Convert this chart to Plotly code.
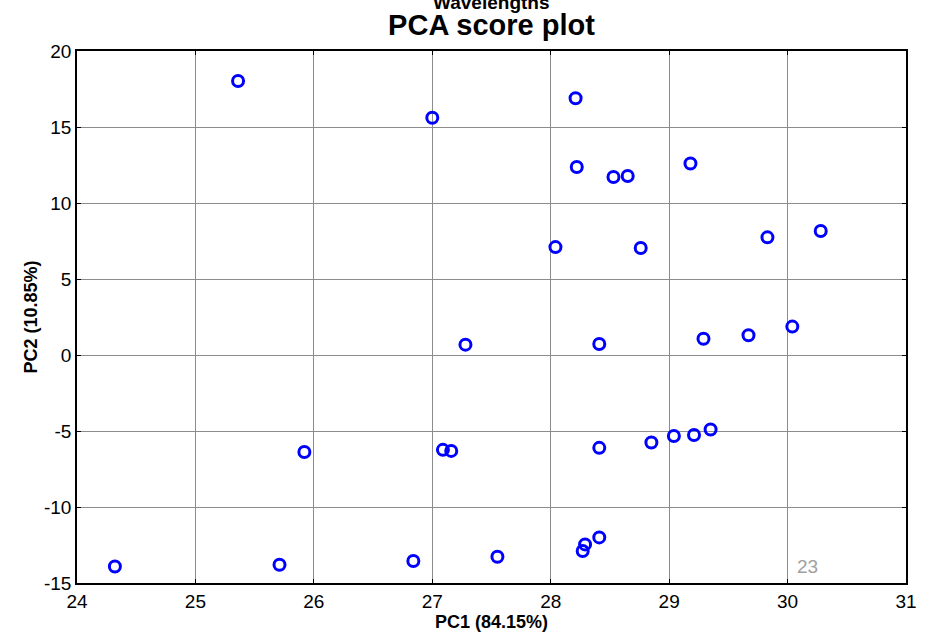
import plotly.graph_objects as go

pc1 = [24.32, 25.36, 25.71, 25.92, 26.84, 27.00, 27.09, 27.16, 27.28, 27.55,
       28.04, 28.21, 28.22, 28.27, 28.29, 28.41, 28.41, 28.41, 28.53, 28.65,
       28.76, 28.85, 29.04, 29.18, 29.21, 29.29, 29.35, 29.67, 29.83, 30.04, 30.28]
pc2 = [-13.91, 18.03, -13.80, -6.38, -13.55, 15.61, -6.24, -6.31, 0.68, -13.27,
       7.10, 16.89, 12.37, -12.89, -12.46, -12.00, 0.72, -6.11, 11.71, 11.78,
       7.04, -5.76, -5.33, 12.60, -5.26, 1.07, -4.90, 1.30, 7.74, 1.87, 8.16]

x_ticks = [24, 25, 26, 27, 28, 29, 30, 31]
y_ticks = [-15, -10, -5, 0, 5, 10, 15, 20]
y_tick_labels = ["-15", "-10", "-5", "0", "5", "10", "15", "20"]
label_text = "23"
label_pos = (30.06, -13.9)

FONT = "Liberation Sans, Arial, Helvetica, sans-serif"

fig = go.Figure()
fig.add_trace(go.Scatter(
    x=pc1, y=pc2, mode="markers",
    marker=dict(symbol="circle-open", size=11, color="#0000ff",
                line=dict(width=3, color="#0000ff")),
    showlegend=False, hoverinfo="x+y",
))

fig.add_annotation(x=label_pos[0], y=label_pos[1], xref="x", yref="y",
                   text=label_text, showarrow=False, xanchor="left", yanchor="middle",
                   font=dict(family=FONT, size=19, color="#a0a0a0"))

fig.add_annotation(x=0.5, y=(583 - 2) / 532, xref="paper", yref="paper",
                   text="Wavelengths", showarrow=False, xanchor="center", yanchor="middle",
                   font=dict(family=FONT, size=19, color="#000000", weight="bold"))

axis_common = dict(
    showline=True, linecolor="#000000", linewidth=1.5, mirror="allticks",
    ticks="inside", ticklen=4, tickcolor="#000000", tickwidth=1,
    showgrid=True, gridcolor="#8c8c8c", gridwidth=1,
    zeroline=False, automargin=False,
    tickfont=dict(family=FONT, size=19, color="#000000"),
)

fig.update_layout(
    width=925, height=632,
    paper_bgcolor="#ffffff", plot_bgcolor="#ffffff",
    margin=dict(l=77, r=19, t=51, b=49, autoexpand=False),
    title=dict(text="PCA score plot", x=0.5, xanchor="center", xref="paper",
               y=1 - 25 / 632, yanchor="middle", yref="container",
               font=dict(family=FONT, size=29, color="#000000", weight="bold")),
    xaxis=dict(range=[24, 31], tickvals=x_ticks, **axis_common,
               title=dict(text="PC1 (84.15%)", standoff=2,
                          font=dict(family=FONT, size=18, color="#000000", weight="bold"))),
    yaxis=dict(range=[-15, 20], tickvals=y_ticks, ticktext=y_tick_labels, **axis_common,
               title=dict(text="PC2 (10.85%)", standoff=2,
                          font=dict(family=FONT, size=18, color="#000000", weight="bold"))),
)

fig.write_html("out.html", config={"displayModeBar": False},
               post_script="document.body.style.margin='0';document.body.style.overflow='hidden';")
